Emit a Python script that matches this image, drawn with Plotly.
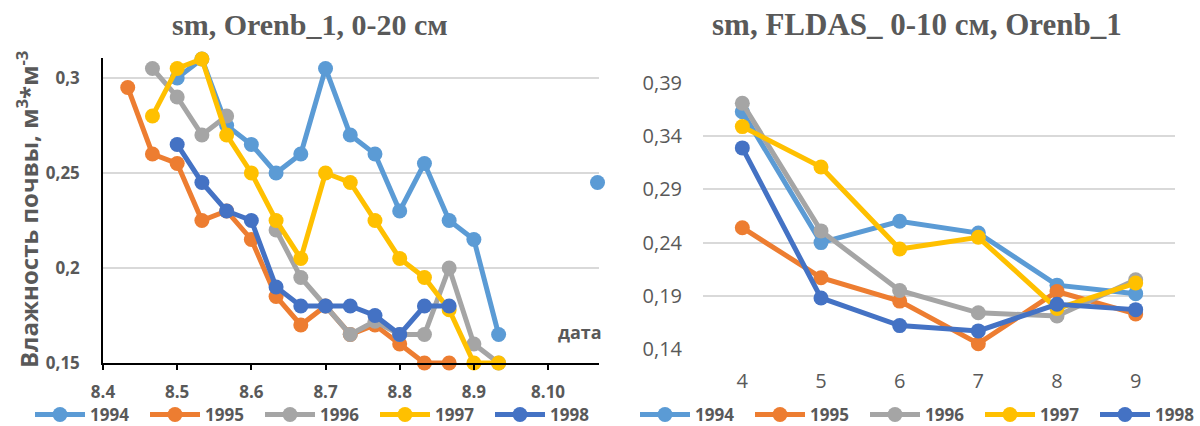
import plotly.graph_objects as go

# ---------------- data ----------------
# left chart: observations by dekad (index 0 = 8.4 tick, 3 dekads per tick step)
dekad_pos = [0, 1, 2, 3, 4, 5, 6, 7, 8, 9, 10, 11, 12, 13, 14, 15, 16, 17, 18, 19, 20]
left_tick_pos = [0, 3, 6, 9, 12, 15, 18]
left_tick_text = ["8.4", "8.5", "8.6", "8.7", "8.8", "8.9", "8.10"]
left_y_ticks = [0.15, 0.2, 0.25, 0.3]
left_y_text = ["0,15", "0,2", "0,25", "0,3"]

obs_1994 = [None, None, None, 0.30, 0.31, 0.275, 0.265, 0.25, 0.26, 0.305, 0.27, 0.26, 0.23, 0.255, 0.225, 0.215, 0.165, None, None, None, 0.245]
obs_1995 = [None, 0.295, 0.26, 0.255, 0.225, 0.23, 0.215, 0.185, 0.17, 0.18, 0.165, 0.17, 0.16, 0.15, 0.15, None, None, None, None, None, None]
obs_1996 = [None, None, 0.305, 0.29, 0.27, 0.28, None, 0.22, 0.195, 0.18, 0.165, 0.172, 0.165, 0.165, 0.20, 0.16, 0.15, None, None, None, None]
obs_1997 = [None, None, 0.28, 0.305, 0.31, 0.27, 0.25, 0.225, 0.205, 0.25, 0.245, 0.225, 0.205, 0.195, 0.178, 0.15, 0.15, None, None, None, None]
obs_1998 = [None, None, None, 0.265, 0.245, 0.23, 0.225, 0.19, 0.18, 0.18, 0.18, 0.175, 0.165, 0.18, 0.18, None, None, None, None, None, None]

# right chart: FLDAS monthly
months = [4, 5, 6, 7, 8, 9]
fl_1994 = [0.363, 0.240, 0.260, 0.249, 0.200, 0.192]
fl_1995 = [0.254, 0.207, 0.185, 0.145, 0.194, 0.173]
fl_1996 = [0.371, 0.251, 0.195, 0.174, 0.171, 0.205]
fl_1997 = [0.349, 0.311, 0.234, 0.245, 0.178, 0.202]
fl_1998 = [0.329, 0.188, 0.162, 0.157, 0.182, 0.177]
right_y_ticks = [0.14, 0.19, 0.24, 0.29, 0.34, 0.39]
right_y_text = ["0,14", "0,19", "0,24", "0,29", "0,34", "0,39"]

years = ["1994", "1995", "1996", "1997", "1998"]
colors = ["#5B9BD5", "#ED7D31", "#A5A5A5", "#FFC000", "#4472C4"]
left_series = [obs_1994, obs_1995, obs_1996, obs_1997, obs_1998]
right_series = [fl_1994, fl_1995, fl_1996, fl_1997, fl_1998]

# ---------------- figure ----------------
W, H = 1200, 426
def px_x(p):
    return p / W
def px_y(p):
    return 1 - p / H

GRAY = "#595959"
fig = go.Figure()

for name, col, ys in zip(years, colors, left_series):
    fig.add_trace(go.Scatter(
        x=dekad_pos, y=ys, name=name, mode="lines+markers",
        line=dict(color=col, width=5), marker=dict(color=col, size=15),
        connectgaps=False, cliponaxis=False, xaxis="x", yaxis="y", legend="legend",
    ))
for name, col, ys in zip(years, colors, right_series):
    fig.add_trace(go.Scatter(
        x=months, y=ys, name=name, mode="lines+markers",
        line=dict(color=col, width=5), marker=dict(color=col, size=15),
        cliponaxis=False, xaxis="x2", yaxis="y2", legend="legend2",
    ))

bold_tick = dict(family="Open Sans", size=17, color=GRAY, weight="bold")
norm_tick = dict(family="Open Sans", size=20, color=GRAY)
legend_font = dict(family="Open Sans", size=17, color=GRAY, weight="bold")

fig.update_layout(
    width=W, height=H,
    margin=dict(l=0, r=0, t=0, b=0, autoexpand=False),
    paper_bgcolor="white", plot_bgcolor="white",
    xaxis=dict(
        domain=[px_x(103), px_x(599)], range=[0, 20.06],
        tickvals=left_tick_pos, ticktext=left_tick_text, tickfont=bold_tick,
        showgrid=False, zeroline=False, showline=True, linecolor="black", linewidth=1.5,
        ticks="outside", ticklen=5, tickcolor="black", tickwidth=1.5, ticklabelstandoff=8,
        anchor="y",
    ),
    yaxis=dict(
        domain=[px_y(363), px_y(58)], range=[0.15, 0.3105],
        tickvals=left_y_ticks, ticktext=left_y_text, tickfont=bold_tick,
        showgrid=True, gridcolor="#D9D9D9", gridwidth=1.5, zeroline=False,
        showline=True, linecolor="black", linewidth=1.5, ticks="", ticklabelstandoff=18,
        anchor="x",
    ),
    xaxis2=dict(
        domain=[px_x(703), px_x(1175)], range=[3.5, 9.5],
        tickvals=months, ticktext=[str(m) for m in months], tickfont=norm_tick,
        showgrid=False, zeroline=False, showline=False, ticks="", ticklabelstandoff=18,
        anchor="y2",
    ),
    yaxis2=dict(
        domain=[px_y(349), px_y(83)], range=[0.14, 0.39],
        tickvals=right_y_ticks, ticktext=right_y_text, tickfont=norm_tick,
        showgrid=True, gridcolor="#D9D9D9", gridwidth=1.5, zeroline=False,
        showline=False, ticks="", ticklabelstandoff=20,
        anchor="x2",
    ),
    legend=dict(
        orientation="h", xref="container", yref="container",
        x=px_x(30), xanchor="left", y=px_y(415), yanchor="middle",
        font=legend_font, itemwidth=50, entrywidth=50, entrywidthmode="pixels",
        bgcolor="rgba(0,0,0,0)", tracegroupgap=0,
    ),
    legend2=dict(
        orientation="h", xref="container", yref="container",
        x=px_x(635), xanchor="left", y=px_y(415), yanchor="middle",
        font=legend_font, itemwidth=50, entrywidth=50, entrywidthmode="pixels",
        bgcolor="rgba(0,0,0,0)", tracegroupgap=0,
    ),
    showlegend=True,
    annotations=[
        dict(text="sm, Orenb_1, 0-20 см", xref="paper", yref="paper",
             x=px_x(310), y=px_y(25), xanchor="center", yanchor="middle", showarrow=False,
             font=dict(family="Liberation Serif", size=30, color=GRAY, weight="bold")),
        dict(text="sm, FLDAS_ 0-10 см, Orenb_1", xref="paper", yref="paper",
             x=px_x(917), y=px_y(25), xanchor="center", yanchor="middle", showarrow=False,
             font=dict(family="Liberation Serif", size=31, color=GRAY, weight="bold")),
        dict(text="Влажность почвы, м<sup>3</sup>*м<sup>-3</sup>", xref="paper", yref="paper",
             x=px_x(27), y=px_y(210), xanchor="center", yanchor="middle", showarrow=False,
             textangle=-90,
             font=dict(family="Open Sans", size=24, color=GRAY, weight="bold")),
        dict(text="дата", xref="paper", yref="paper",
             x=px_x(604), y=px_y(332), xanchor="right", yanchor="middle", showarrow=False,
             font=dict(family="Open Sans", size=18, color=GRAY, weight="bold")),
    ],
)

fig.write_html("out.html")
